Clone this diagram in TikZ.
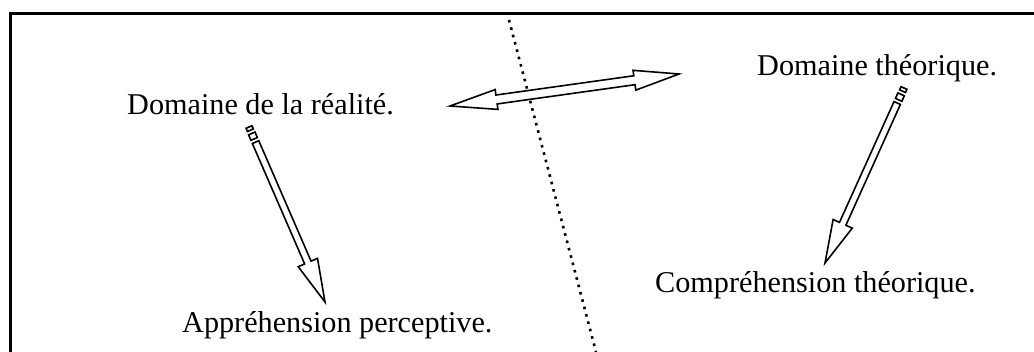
\documentclass[tikz,border=0pt]{standalone}
\usepackage{fontspec}
\setmainfont{Liberation Serif}
\usetikzlibrary{calc}

% hollow arrow with two small blocks at its tail, from #1 to #2
\newcommand{\tailarrow}[2]{%
  \draw[hollow] let \p1=($(#2)-(#1)$), \n1={atan2(\y1,\x1)}, \n2={veclen(\x1,\y1)} in
    [shift={(#1)}, rotate=\n1]
    (0pt,-3.2pt) -- (3.5pt,-3.2pt) -- (3.5pt,3.2pt) -- (0pt,3.2pt) -- cycle
    (7pt,-3.5pt) -- (13pt,-3.5pt) -- (13pt,3.5pt) -- (7pt,3.5pt) -- cycle
    (16.5pt,-3.5pt) -- ({\n2-43pt},-3.5pt) -- ({\n2-43pt},-10.5pt) -- ({\n2},0pt)
      -- ({\n2-43pt},10.5pt) -- ({\n2-43pt},3.5pt) -- (16.5pt,3.5pt) -- cycle;}

% hollow arrow with a head at both ends, from #1 to #2
\newcommand{\twoarrow}[2]{%
  \draw[hollow] let \p1=($(#2)-(#1)$), \n1={atan2(\y1,\x1)}, \n2={veclen(\x1,\y1)} in
    [shift={(#1)}, rotate=\n1]
    (0pt,0pt) -- (47pt,10pt) -- (47pt,4.5pt) -- ({\n2-45pt},4.5pt) -- ({\n2-45pt},10pt)
      -- ({\n2},0pt) -- ({\n2-45pt},-10pt) -- ({\n2-45pt},-4.5pt) -- (47pt,-4.5pt)
      -- (47pt,-10pt) -- cycle;}

\begin{document}
\begin{tikzpicture}[x=1pt, y=-1pt,
    lbl/.style={anchor=base west, inner sep=0pt, font=\fontsize{30.2}{34}\selectfont},
    hollow/.style={draw, line width=1.6pt, fill=white, line join=miter},
    frame/.style={line width=3pt, line join=miter},
    dots/.style={line width=2.6pt, dash pattern=on 2.6pt off 5pt}]
  \useasboundingbox (0,0) rectangle (1034,352);
  \draw[frame] (10,352) -- (10,13.5) -- (1034,13.5);

  % text
  \node[lbl] (real) at (127,115) {Domaine de la réalité.};
  \node[lbl] (theo) at (757,76) {Domaine théorique.};
  \node[lbl] (appr) at (182,333) {Appréhension perceptive.};
  \node[lbl] (comp) at (655,293) {Compréhension théorique.};

  % border between the two domains
  \draw[dots] (509,20) -- (596,352);

  % arrow ends
  \coordinate (r1) at (249,127);
  \coordinate (a1) at (325,302);
  \coordinate (t1) at (904,88);
  \coordinate (c1) at (825,263);
  \coordinate (lt) at (450,106);
  \coordinate (rt) at (679,74);

  \tailarrow{r1}{a1}
  \tailarrow{t1}{c1}
  \twoarrow{lt}{rt}
\end{tikzpicture}
\end{document}
